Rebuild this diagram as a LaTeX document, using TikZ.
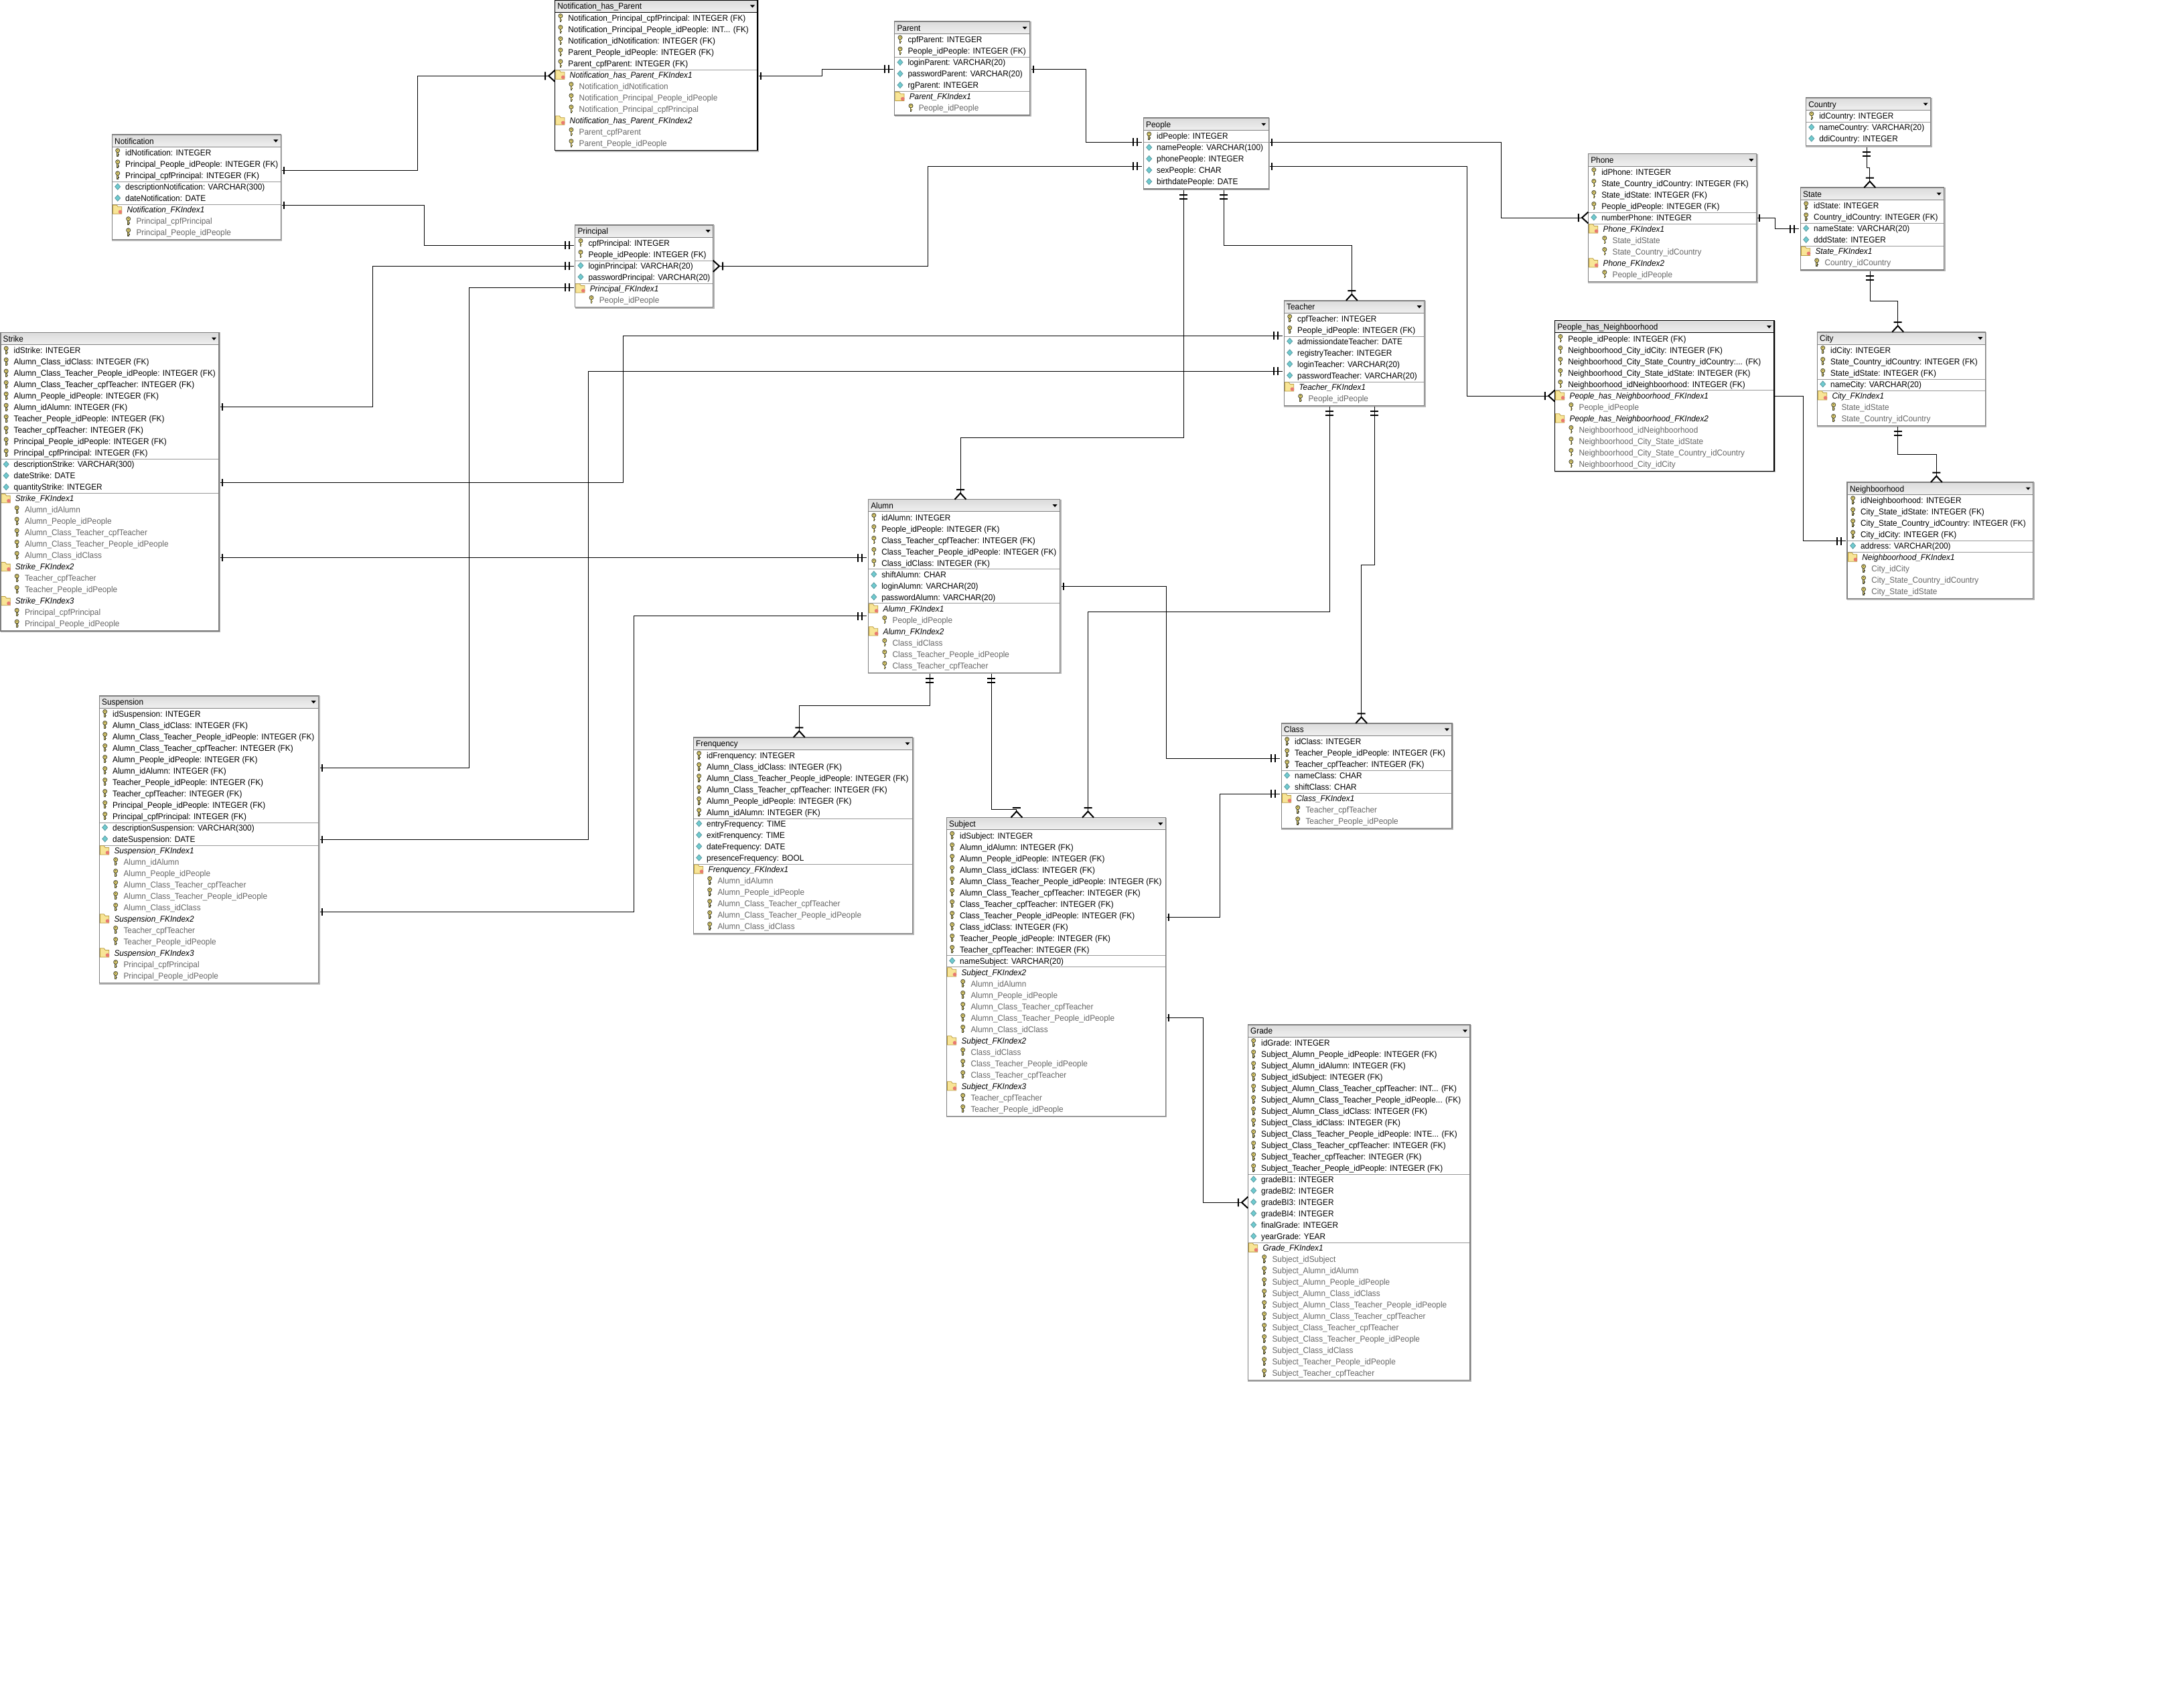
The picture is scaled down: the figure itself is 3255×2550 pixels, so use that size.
\documentclass[tikz,border=0pt]{standalone}
\usepackage{fontspec}
\setmainfont{Liberation Sans}[FakeStretch=0.94]
\usepackage{tikz}
\usetikzlibrary{arrows.meta, calc}

\definecolor{boxgray}{HTML}{808080}
\definecolor{shadowgray}{HTML}{B4B4B4}
\definecolor{sepgray}{HTML}{9A9A9A}
\definecolor{idxgray}{HTML}{666666}
\definecolor{keygold}{HTML}{E4D26E}
\definecolor{keyedge}{HTML}{4F4F3A}
\definecolor{diateal}{HTML}{6FCBD0}
\definecolor{diaedge}{HTML}{5C9AA0}
\definecolor{foldgold}{HTML}{F8E596}
\definecolor{foldedge}{HTML}{B89A3C}
\definecolor{dotred}{HTML}{E87A70}

% crows foot ends
\pgfdeclarearrow{name=ERone,
  setup code={\pgfarrowssettipend{0pt}\pgfarrowssetlineend{-2pt}\pgfarrowssetbackend{-6pt}\pgfarrowssetvisualbackend{-6pt}\pgfarrowshullpoint{0pt}{0pt}\pgfarrowshullpoint{-6pt}{0pt}},
  drawing code={\pgfsetdash{}{0pt}\pgfsetbuttcap\pgfsetlinewidth{2pt}
    \pgfpathmoveto{\pgfqpoint{-5pt}{-5.5pt}}\pgfpathlineto{\pgfqpoint{-5pt}{5.5pt}}\pgfusepathqstroke}}
\pgfdeclarearrow{name=ERbars,
  setup code={\pgfarrowssettipend{0pt}\pgfarrowssetlineend{-2pt}\pgfarrowssetbackend{-16pt}\pgfarrowssetvisualbackend{-16pt}\pgfarrowshullpoint{0pt}{0pt}\pgfarrowshullpoint{-16pt}{0pt}},
  drawing code={\pgfsetdash{}{0pt}\pgfsetbuttcap\pgfsetlinewidth{2pt}
    \pgfpathmoveto{\pgfqpoint{-9pt}{-6pt}}\pgfpathlineto{\pgfqpoint{-9pt}{6pt}}
    \pgfpathmoveto{\pgfqpoint{-15pt}{-6pt}}\pgfpathlineto{\pgfqpoint{-15pt}{6pt}}\pgfusepathqstroke}}
\pgfdeclarearrow{name=ERmany,
  setup code={\pgfarrowssettipend{0pt}\pgfarrowssetlineend{-9pt}\pgfarrowssetbackend{-15pt}\pgfarrowssetvisualbackend{-15pt}\pgfarrowshullpoint{0pt}{0pt}\pgfarrowshullpoint{-15pt}{0pt}},
  drawing code={\pgfsetdash{}{0pt}\pgfsetbuttcap\pgfsetlinewidth{2pt}
    \pgfpathmoveto{\pgfqpoint{-14.5pt}{-6pt}}\pgfpathlineto{\pgfqpoint{-14.5pt}{6pt}}
    \pgfpathmoveto{\pgfqpoint{0pt}{-8.5pt}}\pgfpathlineto{\pgfqpoint{-9.3pt}{0pt}}\pgfpathlineto{\pgfqpoint{0pt}{8.5pt}}\pgfusepathqstroke}}

\tikzset{
  erdbox/.style={draw=boxgray, line width=1.6pt, inner sep=0pt, outer sep=0pt},
  erdsel/.style={draw=black, line width=1.6pt, inner sep=0pt, outer sep=0pt},
  erdtitle/.style={anchor=base west, inner sep=0pt, font=\fontsize{12.6}{14}\selectfont},
  rowtext/.style={anchor=base west, inner sep=0pt, font=\fontsize{12.6}{14}\selectfont},
  rowfold/.style={rowtext, font=\fontsize{12.6}{14}\selectfont\itshape},
  rowidx/.style={rowtext, text=idxgray},
  fk/.style={line width=1pt, draw=black},
  erdkey/.pic={
    \fill[keyedge] (-1.3,-1) rectangle (1.3,6);
    \fill[keyedge] (1.3,2.5) rectangle (2.3,4);
    \fill[keygold, draw=keyedge, line width=0.9pt] (0,-3) circle (3);
    \fill[keyedge] (0,-3.6) circle (0.8);
    \fill[keygold] (-0.4,0.5) rectangle (0.4,4.5);
  },
  erddia/.pic={
    \fill[diateal, draw=diaedge, line width=0.8pt] (-4,0) -- (0,-4.5) -- (4,0) -- (0,4.5) -- cycle;
  },
  erdfold/.pic={
    \fill[foldgold, draw=foldedge, line width=0.8pt] (-7.2,-6.6) -- (-1.5,-6.6) -- (0.5,-4) -- (6,-4) -- (6,6.6) -- (-7.2,6.6) -- cycle;
    \fill[dotred] (3.8,3.6) circle (2.8);
  },
}

\newcounter{erdrow}
\newcommand{\erdnext}{\pgfmathsetmacro{\rowy}{\erdy+26.7+17*\value{erdrow}}\pgfmathsetmacro{\rowb}{\rowy+4.7}}
\newcommand{\erdrowk}{\erdnext\pic at (\erdx+8.4,\rowy) {erdkey};\node[rowtext] (\erdname-\theerdrow) at (\erdx+19.7,\rowb) {\txt};\stepcounter{erdrow}}
\newcommand{\erdrowa}{\erdnext\pic at (\erdx+8.4,\rowy) {erddia};\node[rowtext] (\erdname-\theerdrow) at (\erdx+19.7,\rowb) {\txt};\stepcounter{erdrow}}
\newcommand{\erdrowx}{\erdnext\pic at (\erdx+8.4,\rowy) {erdfold};\node[rowfold] (\erdname-\theerdrow) at (\erdx+22,\rowb) {\txt};\stepcounter{erdrow}}
\newcommand{\erdrowi}{\erdnext\pic at (\erdx+24.4,\rowy) {erdkey};\node[rowidx] (\erdname-\theerdrow) at (\erdx+36,\rowb) {\txt};\stepcounter{erdrow}}
\newcommand{\erdrows}{\draw[sepgray, line width=1pt] (\erdx,\erdy+19.3+17*\value{erdrow}) -- (\erdr,\erdy+19.3+17*\value{erdrow});}

% [style]{name}{left}{right}{top}{title}{rows}
\newcommand{\erdtable}[7][erdbox]{%
  \setcounter{erdrow}{0}%
  \def\erdname{#2}\def\erdx{#3}\def\erdr{#4}\def\erdy{#5}%
  \pgfmathsetmacro{\erdw}{#4-#3}%
  \shade[top color=black!14, middle color=black!3, bottom color=black!6] (#3,#5) rectangle (#4,#5+18.3);
  \draw[#1, line width=1pt] (#3,#5+18.3) -- (#4,#5+18.3);
  \node[erdtitle] (#2-title) at (#3+3.7,#5+14) {#6};
  \fill (#4-11,#5+7.5) -- ++(7,0) -- ++(-3.5,4) -- cycle;
  \foreach \kind/\txt in {#7} {\csname erdrow\kind\endcsname}
  \pgfmathsetmacro{\erdh}{20.7+17*\value{erdrow}}%
  \node[#1, minimum width=\erdw pt, minimum height=\erdh pt, anchor=north west] (#2) at (#3,#5) {};
  \draw[shadowgray, line width=1.4pt] (#4+1.4,#5) -- (#4+1.4,#5+\erdh+1.4) -- (#3,#5+\erdh+1.4);
}
\catcode`\_=12

\begin{document}
\begin{tikzpicture}[x=1pt,y=-1pt]

    \useasboundingbox (0,0) rectangle (3255,2550);

    \erdtable[erdsel]{nhp}{828.5}{1131}{0}{Notification_has_Parent}{k/Notification_Principal_cpfPrincipal: INTEGER (FK), k/Notification_Principal_People_idPeople: INT.{}.{}. (FK), k/Notification_idNotification: INTEGER (FK), k/Parent_People_idPeople: INTEGER (FK), k/Parent_cpfParent: INTEGER (FK), s/-, x/Notification_has_Parent_FKIndex1, i/Notification_idNotification, i/Notification_Principal_People_idPeople, i/Notification_Principal_cpfPrincipal, x/Notification_has_Parent_FKIndex2, i/Parent_cpfParent, i/Parent_People_idPeople}

    \erdtable{parent}{1335.6}{1537.6}{32.3}{Parent}{k/cpfParent: INTEGER, k/People_idPeople: INTEGER (FK), s/-, a/loginParent: VARCHAR(20), a/passwordParent: VARCHAR(20), a/rgParent: INTEGER, s/-, x/Parent_FKIndex1, i/People_idPeople}

    \erdtable{notification}{167.3}{419.3}{201}{Notification}{k/idNotification: INTEGER, k/Principal_People_idPeople: INTEGER (FK), k/Principal_cpfPrincipal: INTEGER (FK), s/-, a/descriptionNotification: VARCHAR(300), a/dateNotification: DATE, s/-, x/Notification_FKIndex1, i/Principal_cpfPrincipal, i/Principal_People_idPeople}

    \erdtable{principal}{858.6}{1064.7}{335.7}{Principal}{k/cpfPrincipal: INTEGER, k/People_idPeople: INTEGER (FK), s/-, a/loginPrincipal: VARCHAR(20), a/passwordPrincipal: VARCHAR(20), s/-, x/Principal_FKIndex1, i/People_idPeople}

    \erdtable{people}{1707.3}{1894.3}{176.3}{People}{k/idPeople: INTEGER, s/-, a/namePeople: VARCHAR(100), a/phonePeople: INTEGER, a/sexPeople: CHAR, a/birthdatePeople: DATE}

    \erdtable{teacher}{1917.3}{2126.7}{448.7}{Teacher}{k/cpfTeacher: INTEGER, k/People_idPeople: INTEGER (FK), s/-, a/admissiondateTeacher: DATE, a/registryTeacher: INTEGER, a/loginTeacher: VARCHAR(20), a/passwordTeacher: VARCHAR(20), s/-, x/Teacher_FKIndex1, i/People_idPeople}

    \erdtable{strike}{0.8}{327}{496.4}{Strike}{k/idStrike: INTEGER, k/Alumn_Class_idClass: INTEGER (FK), k/Alumn_Class_Teacher_People_idPeople: INTEGER (FK), k/Alumn_Class_Teacher_cpfTeacher: INTEGER (FK), k/Alumn_People_idPeople: INTEGER (FK), k/Alumn_idAlumn: INTEGER (FK), k/Teacher_People_idPeople: INTEGER (FK), k/Teacher_cpfTeacher: INTEGER (FK), k/Principal_People_idPeople: INTEGER (FK), k/Principal_cpfPrincipal: INTEGER (FK), s/-, a/descriptionStrike: VARCHAR(300), a/dateStrike: DATE, a/quantityStrike: INTEGER, s/-, x/Strike_FKIndex1, i/Alumn_idAlumn, i/Alumn_People_idPeople, i/Alumn_Class_Teacher_cpfTeacher, i/Alumn_Class_Teacher_People_idPeople, i/Alumn_Class_idClass, x/Strike_FKIndex2, i/Teacher_cpfTeacher, i/Teacher_People_idPeople, x/Strike_FKIndex3, i/Principal_cpfPrincipal, i/Principal_People_idPeople}

    \erdtable{alumn}{1296.4}{1582.6}{745.6}{Alumn}{k/idAlumn: INTEGER, k/People_idPeople: INTEGER (FK), k/Class_Teacher_cpfTeacher: INTEGER (FK), k/Class_Teacher_People_idPeople: INTEGER (FK), k/Class_idClass: INTEGER (FK), s/-, a/shiftAlumn: CHAR, a/loginAlumn: VARCHAR(20), a/passwordAlumn: VARCHAR(20), s/-, x/Alumn_FKIndex1, i/People_idPeople, x/Alumn_FKIndex2, i/Class_idClass, i/Class_Teacher_People_idPeople, i/Class_Teacher_cpfTeacher}

    \erdtable{frenquency}{1035.3}{1362.5}{1100.8}{Frenquency}{k/idFrenquency: INTEGER, k/Alumn_Class_idClass: INTEGER (FK), k/Alumn_Class_Teacher_People_idPeople: INTEGER (FK), k/Alumn_Class_Teacher_cpfTeacher: INTEGER (FK), k/Alumn_People_idPeople: INTEGER (FK), k/Alumn_idAlumn: INTEGER (FK), s/-, a/entryFrequency: TIME, a/exitFrenquency: TIME, a/dateFrequency: DATE, a/presenceFrequency: BOOL, s/-, x/Frenquency_FKIndex1, i/Alumn_idAlumn, i/Alumn_People_idPeople, i/Alumn_Class_Teacher_cpfTeacher, i/Alumn_Class_Teacher_People_idPeople, i/Alumn_Class_idClass}

    \erdtable{suspension}{148.3}{475.7}{1038.7}{Suspension}{k/idSuspension: INTEGER, k/Alumn_Class_idClass: INTEGER (FK), k/Alumn_Class_Teacher_People_idPeople: INTEGER (FK), k/Alumn_Class_Teacher_cpfTeacher: INTEGER (FK), k/Alumn_People_idPeople: INTEGER (FK), k/Alumn_idAlumn: INTEGER (FK), k/Teacher_People_idPeople: INTEGER (FK), k/Teacher_cpfTeacher: INTEGER (FK), k/Principal_People_idPeople: INTEGER (FK), k/Principal_cpfPrincipal: INTEGER (FK), s/-, a/descriptionSuspension: VARCHAR(300), a/dateSuspension: DATE, s/-, x/Suspension_FKIndex1, i/Alumn_idAlumn, i/Alumn_People_idPeople, i/Alumn_Class_Teacher_cpfTeacher, i/Alumn_Class_Teacher_People_idPeople, i/Alumn_Class_idClass, x/Suspension_FKIndex2, i/Teacher_cpfTeacher, i/Teacher_People_idPeople, x/Suspension_FKIndex3, i/Principal_cpfPrincipal, i/Principal_People_idPeople}

    \erdtable{subject}{1413.3}{1740.3}{1220.6}{Subject}{k/idSubject: INTEGER, k/Alumn_idAlumn: INTEGER (FK), k/Alumn_People_idPeople: INTEGER (FK), k/Alumn_Class_idClass: INTEGER (FK), k/Alumn_Class_Teacher_People_idPeople: INTEGER (FK), k/Alumn_Class_Teacher_cpfTeacher: INTEGER (FK), k/Class_Teacher_cpfTeacher: INTEGER (FK), k/Class_Teacher_People_idPeople: INTEGER (FK), k/Class_idClass: INTEGER (FK), k/Teacher_People_idPeople: INTEGER (FK), k/Teacher_cpfTeacher: INTEGER (FK), s/-, a/nameSubject: VARCHAR(20), s/-, x/Subject_FKIndex2, i/Alumn_idAlumn, i/Alumn_People_idPeople, i/Alumn_Class_Teacher_cpfTeacher, i/Alumn_Class_Teacher_People_idPeople, i/Alumn_Class_idClass, x/Subject_FKIndex2, i/Class_idClass, i/Class_Teacher_People_idPeople, i/Class_Teacher_cpfTeacher, x/Subject_FKIndex3, i/Teacher_cpfTeacher, i/Teacher_People_idPeople}

    \erdtable{class}{1913.3}{2167.9}{1079.9}{Class}{k/idClass: INTEGER, k/Teacher_People_idPeople: INTEGER (FK), k/Teacher_cpfTeacher: INTEGER (FK), s/-, a/nameClass: CHAR, a/shiftClass: CHAR, s/-, x/Class_FKIndex1, i/Teacher_cpfTeacher, i/Teacher_People_idPeople}

    \erdtable{grade}{1863.3}{2195}{1529.8}{Grade}{k/idGrade: INTEGER, k/Subject_Alumn_People_idPeople: INTEGER (FK), k/Subject_Alumn_idAlumn: INTEGER (FK), k/Subject_idSubject: INTEGER (FK), k/Subject_Alumn_Class_Teacher_cpfTeacher: INT.{}.{}. (FK), k/Subject_Alumn_Class_Teacher_People_idPeople.{}.{}. (FK), k/Subject_Alumn_Class_idClass: INTEGER (FK), k/Subject_Class_idClass: INTEGER (FK), k/Subject_Class_Teacher_People_idPeople: INTE.{}.{}. (FK), k/Subject_Class_Teacher_cpfTeacher: INTEGER (FK), k/Subject_Teacher_cpfTeacher: INTEGER (FK), k/Subject_Teacher_People_idPeople: INTEGER (FK), s/-, a/gradeBI1: INTEGER, a/gradeBI2: INTEGER, a/gradeBI3: INTEGER, a/gradeBI4: INTEGER, a/finalGrade: INTEGER, a/yearGrade: YEAR, s/-, x/Grade_FKIndex1, i/Subject_idSubject, i/Subject_Alumn_idAlumn, i/Subject_Alumn_People_idPeople, i/Subject_Alumn_Class_idClass, i/Subject_Alumn_Class_Teacher_People_idPeople, i/Subject_Alumn_Class_Teacher_cpfTeacher, i/Subject_Class_Teacher_cpfTeacher, i/Subject_Class_Teacher_People_idPeople, i/Subject_Class_idClass, i/Subject_Teacher_People_idPeople, i/Subject_Teacher_cpfTeacher}

    \erdtable{phone}{2371.4}{2622.4}{229.7}{Phone}{k/idPhone: INTEGER, k/State_Country_idCountry: INTEGER (FK), k/State_idState: INTEGER (FK), k/People_idPeople: INTEGER (FK), s/-, a/numberPhone: INTEGER, s/-, x/Phone_FKIndex1, i/State_idState, i/State_Country_idCountry, x/Phone_FKIndex2, i/People_idPeople}

    \erdtable{country}{2696.4}{2882.6}{146.1}{Country}{k/idCountry: INTEGER, s/-, a/nameCountry: VARCHAR(20), a/ddiCountry: INTEGER}

    \erdtable{state}{2688.3}{2902.6}{280.1}{State}{k/idState: INTEGER, k/Country_idCountry: INTEGER (FK), s/-, a/nameState: VARCHAR(20), a/dddState: INTEGER, s/-, x/State_FKIndex1, i/Country_idCountry}

    \erdtable[erdsel]{phn}{2321.4}{2649}{478.6}{People_has_Neighboorhood}{k/People_idPeople: INTEGER (FK), k/Neighboorhood_City_idCity: INTEGER (FK), k/Neighboorhood_City_State_Country_idCountry:.{}.{}. (FK), k/Neighboorhood_City_State_idState: INTEGER (FK), k/Neighboorhood_idNeighboorhood: INTEGER (FK), s/-, x/People_has_Neighboorhood_FKIndex1, i/People_idPeople, x/People_has_Neighboorhood_FKIndex2, i/Neighboorhood_idNeighboorhood, i/Neighboorhood_City_State_idState, i/Neighboorhood_City_State_Country_idCountry, i/Neighboorhood_City_idCity}

    \erdtable{city}{2713.3}{2964.3}{495.7}{City}{k/idCity: INTEGER, k/State_Country_idCountry: INTEGER (FK), k/State_idState: INTEGER (FK), s/-, a/nameCity: VARCHAR(20), s/-, x/City_FKIndex1, i/State_idState, i/State_Country_idCountry}

    \erdtable{neighboorhood}{2758.2}{3035.7}{720}{Neighboorhood}{k/idNeighboorhood: INTEGER, k/City_State_idState: INTEGER (FK), k/City_State_Country_idCountry: INTEGER (FK), k/City_idCity: INTEGER (FK), s/-, a/address: VARCHAR(200), s/-, x/Neighboorhood_FKIndex1, i/City_idCity, i/City_State_Country_idCountry, i/City_State_idState}

    % relations
    \draw[fk, ERone-ERmany] (notification.east |- 0,254) -| (623,113.3) -- (nhp.west |- 0,113.3);
    \draw[fk, ERone-ERbars] (notification.east |- 0,306.4) -| (633,366.3) -- (principal.west |- 0,366.3);
    \draw[fk, ERone-ERbars] (nhp.east |- 0,113.3) -| (1227.4,103.3) -- (parent.west |- 0,103.3);
    \draw[fk, ERone-ERbars] (parent.east |- 0,103.3) -| (1621,212.3) -- (people.west |- 0,212.3);
    \draw[fk, ERmany-ERbars] (principal.east |- 0,397.3) -| (1385.6,248.3) -- (people.west |- 0,248.3);
    \draw[fk, ERone-ERbars] (strike.east |- 0,607.9) -| (556,397.3) -- (principal.west |- 0,397.3);
    \draw[fk, ERone-ERbars] (suspension.east |- 0,1146.7) -| (700,429.3) -- (principal.west |- 0,429.3);
    \draw[fk, ERone-ERbars] (strike.east |- 0,720.3) -| (930,501.3) -- (teacher.west |- 0,501.3);
    \draw[fk, ERone-ERbars] (suspension.east |- 0,1253.3) -| (878,554.3) -- (teacher.west |- 0,554.3);
    \draw[fk, ERone-ERbars] (strike.east |- 0,832.8) -- (alumn.west |- 0,832.8);
    \draw[fk, ERone-ERbars] (suspension.east |- 0,1361.3) -| (946.7,919.5) -- (alumn.west |- 0,919.5);
    \draw[fk, ERbars-ERmany] (people.south -| 1767.3,0) |- (1434,653.3) -- (alumn.north -| 1434,0);
    \draw[fk, ERbars-ERmany] (people.south -| 1827.3,0) |- (2018.3,366.3) -- (teacher.north -| 2018.3,0);
    \draw[fk, ERone-ERmany] (people.east |- 0,212.3) -| (2241,325) -- (phone.west |- 0,325);
    \draw[fk, ERone-ERmany] (people.east |- 0,248.3) -| (2190.7,591) -- (phn.west |- 0,591);
    \draw[fk, ERone-ERbars] (phone.east |- 0,325.5) -| (2650.5,341.6) -- (state.west |- 0,341.6);
    \draw[fk, ERbars-ERmany] (country.south -| 2787.2,0) |- (2791.8,250) -- (state.north -| 2791.8,0);
    \draw[fk, ERbars-ERmany] (state.south -| 2792,0) |- (2833.7,449.4) -- (city.north -| 2833.7,0);
    \draw[fk, ERbars-ERmany] (city.south -| 2833.7,0) |- (2891.3,678.6) -- (neighboorhood.north -| 2891.3,0);
    \draw[fk, -ERbars] (phn.east |- 0,591) -| (2692.3,807.6) -- (neighboorhood.west |- 0,807.6);
    \draw[fk, ERbars-ERmany] (teacher.south -| 1985.3,0) |- (1624.5,913.4) -- (subject.north -| 1624.5,0);
    \draw[fk, ERbars-ERmany] (teacher.south -| 2052.3,0) |- (2032.7,843) -- (class.north -| 2032.7,0);
    \draw[fk, ERone-ERbars] (alumn.east |- 0,875.3) -| (1741.8,1132) -- (class.west |- 0,1132);
    \draw[fk, ERbars-ERmany] (alumn.south -| 1388.4,0) |- (1193.3,1053) -- (frenquency.north -| 1193.3,0);
    \draw[fk, ERbars-ERmany] (alumn.south -| 1480.4,0) |- (1517.9,1208.3) -- (subject.north -| 1517.9,0);
    \draw[fk, ERone-ERbars] (subject.east |- 0,1369.2) -| (1821,1185.4) -- (class.west |- 0,1185.4);
    \draw[fk, ERone-ERmany] (subject.east |- 0,1519.4) -| (1796.4,1795.3) -- (grade.west |- 0,1795.3);

\end{tikzpicture}
\end{document}
